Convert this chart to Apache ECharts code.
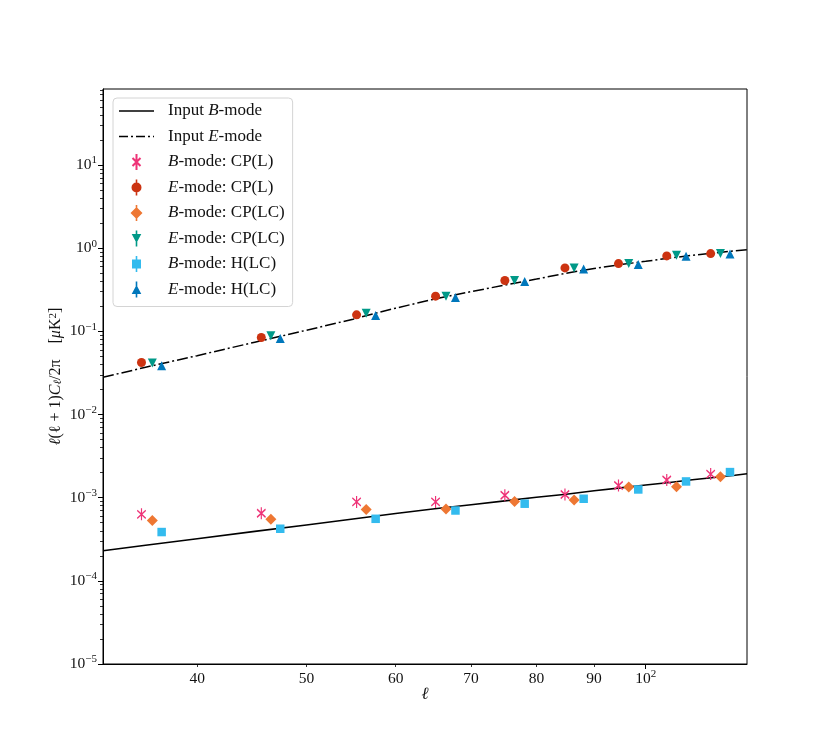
<!DOCTYPE html>
<html><head><meta charset="utf-8">
<script src="https://cdn.jsdelivr.net/npm/echarts@6/dist/echarts.min.js"></script>
<style>html,body{margin:0;padding:0;background:#fff}#c{width:830px;height:747px}</style>
</head><body><div id="c"></div>
<script>
// ---- data ----
const lineEll = [33, 36, 40, 45, 50, 55, 60, 65, 70, 75, 80, 85, 90, 95, 100, 105, 110, 115, 120, 123];
const inputB  = [2.30e-4, 2.68e-4, 3.21e-4, 3.93e-4, 4.70e-4, 5.55e-4, 6.46e-4, 7.36e-4, 8.23e-4, 9.16e-4,
                 1.01e-3, 1.10e-3, 1.21e-3, 1.31e-3, 1.42e-3, 1.52e-3, 1.64e-3, 1.75e-3, 1.86e-3, 1.94e-3];
const inputE  = [0.028, 0.037, 0.051, 0.074, 0.103, 0.140, 0.190, 0.245, 0.300, 0.360,
                 0.425, 0.500, 0.570, 0.635, 0.695, 0.760, 0.820, 0.875, 0.930, 0.960];

const ellCPL  = [35.7, 45.6, 55.4, 65.1, 75.0, 84.8, 94.6, 104.4, 114.2];
const ellCPLC = [36.5, 46.5, 56.5, 66.5, 76.5, 86.4, 96.6, 106.5, 116.5];
const ellHLC  = [37.2, 47.4, 57.6, 67.8, 78.1, 88.1, 98.5, 108.6, 118.8];

const bCPL  = [6.3e-4, 6.5e-4, 8.9e-4, 8.9e-4, 1.07e-3, 1.09e-3, 1.40e-3, 1.63e-3, 1.92e-3];
const eCPL  = [0.0422, 0.0842, 0.158, 0.265, 0.408, 0.579, 0.653, 0.807, 0.861];
const bCPLC = [5.3e-4, 5.5e-4, 7.2e-4, 7.3e-4, 9.0e-4, 9.35e-4, 1.34e-3, 1.35e-3, 1.78e-3];
const eCPLC = [0.0415, 0.0883, 0.1655, 0.265, 0.408, 0.579, 0.653, 0.824, 0.861];
const bHLC  = [3.86e-4, 4.23e-4, 5.57e-4, 7.01e-4, 8.46e-4, 9.7e-4, 1.255e-3, 1.567e-3, 2.03e-3];
const eHLC  = [0.0385, 0.0818, 0.155, 0.255, 0.397, 0.563, 0.636, 0.802, 0.848];

const xTicks = [40, 50, 60, 70, 80, 90, 100];
const xTickLabels = ['40', '50', '60', '70', '80', '90', '10^2'];
const xMajorTicks = [100];
const yTicks = [1e-5, 1e-4, 1e-3, 1e-2, 1e-1, 1, 10];
const yTickLabels = ['10^−5', '10^−4', '10^−3', '10^−2', '10^−1', '10^0', '10^1'];

const seriesNames = ['Input B-mode', 'Input E-mode', 'B-mode: CP(L)', 'E-mode: CP(L)',
  'B-mode: CP(LC)', 'E-mode: CP(LC)', 'B-mode: H(LC)', 'E-mode: H(LC)'];

// minor tick positions (2..9 x 10^n) for the log y axis
const yMinor = [];
for (let e = -5; e <= 1; e++) for (let m = 2; m <= 9; m++) yMinor.push(+(m * Math.pow(10, e)).toPrecision(3));

const zip = (xs, ys) => xs.map((x, i) => [x, ys[i]]);
const FF = "'Liberation Serif', 'DejaVu Serif', serif";
const TXT = '#111';

const tickRich = {
  b: { fontFamily: FF, fontSize: 15.5, color: TXT, lineHeight: 20 },
  s: { fontFamily: FF, fontSize: 11, color: TXT, lineHeight: 12, verticalAlign: 'top' }
};
function tickFmt(labels, ticks) {
  return function (v) {
    let idx = ticks.findIndex(t => Math.abs(t - v) / t < 1e-6);
    const lab = idx >= 0 ? labels[idx] : String(v);
    const parts = lab.split('^');
    return parts.length > 1 ? '{b|' + parts[0] + '}{s|' + parts[1] + '}' : '{b|' + lab + '}';
  };
}

// legend icons (marker + error-bar stroke; line samples)
const ICON = {
  solid: 'path://M0,0h35v1.6h-35Z',
  dashdot: 'path://M0,0h9v1.5h-9Z M12,0h2v1.5h-2Z M17,0h9v1.5h-9Z M29,0h2v1.5h-2Z M34,0h1v1.5h-1Z',
  x: 'path://M4.5,4L12.5,12M12.5,4L4.5,12M8.5,0L8.5,16',
  circle: 'path://M7.7,0h1.6v16h-1.6Z M3.5,8A5,5 0 1,1 13.5,8A5,5 0 1,1 3.5,8Z',
  diamond: 'path://M7.7,0h1.6v16h-1.6Z M8.5,2L14.5,8L8.5,14L2.5,8Z',
  tdown: 'path://M7.7,0h1.6v16h-1.6Z M3.7,3.5L13.3,3.5L8.5,12.5Z',
  rect: 'path://M7.7,0h1.6v16h-1.6Z M4,3.5h9v9h-9Z',
  tup: 'path://M7.7,0h1.6v16h-1.6Z M8.5,3.5L13.3,12.5L3.7,12.5Z'
};

const chart = echarts.init(document.getElementById('c'), null, { renderer: 'canvas' });
const axisLineStyle = { color: '#000', width: 1 };
chart.setOption({
  animation: false,
  backgroundColor: '#fff',
  grid: { left: 103, right: 83, top: 89, bottom: 83, show: true, borderColor: '#000', borderWidth: 1, backgroundColor: 'transparent' },
  legend: {
    orient: 'vertical', left: 113, top: 98,
    padding: [4, 8, 8, 6],
    itemWidth: 35, itemHeight: 16, itemGap: 7.5,
    symbolKeepAspect: true,
    backgroundColor: '#fff', borderColor: '#d4d4d4', borderWidth: 1, borderRadius: 4,
    textStyle: {
      fontFamily: FF, fontSize: 17, color: TXT, lineHeight: 18, padding: [0, 0, 0, 9],
      rich: { i: { fontFamily: FF, fontSize: 17, fontStyle: 'italic', color: TXT, lineHeight: 18 } }
    },
    formatter: n => n.replace(/(^|\s)([BE])-mode/, '$1{i|$2}-mode'),
    data: [
      { name: seriesNames[0], icon: ICON.solid },
      { name: seriesNames[1], icon: ICON.dashdot },
      { name: seriesNames[2], icon: ICON.x },
      { name: seriesNames[3], icon: ICON.circle },
      { name: seriesNames[4], icon: ICON.diamond },
      { name: seriesNames[5], icon: ICON.tdown },
      { name: seriesNames[6], icon: ICON.rect },
      { name: seriesNames[7], icon: ICON.tup }
    ]
  },
  xAxis: [{
    type: 'log', min: 33, max: 123, position: 'bottom',
    name: 'ℓ', nameLocation: 'middle', nameGap: 22, nameMoveOverlap: false,
    nameTextStyle: { fontFamily: FF, fontSize: 17, fontStyle: 'italic', color: TXT },
    axisLine: { show: true, lineStyle: axisLineStyle },
    axisTick: { show: true, length: 3, lineStyle: { color: '#000', width: 0.8 }, customValues: xTicks },
    axisLabel: { customValues: xTicks, margin: 5, formatter: tickFmt(xTickLabels, xTicks), rich: tickRich },
    splitLine: { show: false }, minorTick: { show: false }
  }, {
    type: 'log', min: 33, max: 123, position: 'bottom',
    axisLine: { show: false },
    axisTick: { show: true, length: 5, lineStyle: { color: '#000', width: 1 }, customValues: xMajorTicks },
    axisLabel: { show: false }, splitLine: { show: false }
  }],
  yAxis: [{
    type: 'log', min: 1e-5, max: 82, position: 'left',
    name: '{i|ℓ}(ℓ + 1){i|C}{sub|ℓ}/2π    [{i|μ}K{sup|2}]',
    nameLocation: 'middle', nameGap: 39, nameRotate: 90, nameMoveOverlap: false,
    nameTextStyle: {
      fontFamily: FF, fontSize: 16, color: TXT,
      rich: {
        i: { fontFamily: FF, fontSize: 16, fontStyle: 'italic', color: TXT },
        sub: { fontFamily: FF, fontSize: 11, fontStyle: 'italic', color: TXT, verticalAlign: 'bottom', lineHeight: 14 },
        sup: { fontFamily: FF, fontSize: 11, color: TXT, verticalAlign: 'top', lineHeight: 12 }
      }
    },
    axisLine: { show: true, lineStyle: axisLineStyle },
    axisTick: { show: true, length: 5, lineStyle: { color: '#000', width: 1 }, customValues: yTicks },
    axisLabel: { customValues: yTicks, margin: 6, formatter: tickFmt(yTickLabels, yTicks), rich: tickRich },
    splitLine: { show: false }
  }, {
    type: 'log', min: 1e-5, max: 82, position: 'left',
    axisLine: { show: false },
    axisTick: { show: true, length: 3, lineStyle: { color: '#000', width: 0.8 }, customValues: yMinor },
    axisLabel: { show: false }, splitLine: { show: false }
  }],
  series: [
    { name: seriesNames[0], type: 'line', data: zip(lineEll, inputB), showSymbol: false, symbol: 'none',
      lineStyle: { color: '#000', width: 1.6 }, itemStyle: { color: '#000' }, z: 2 },
    { name: seriesNames[1], type: 'line', data: zip(lineEll, inputE), showSymbol: false, symbol: 'none',
      lineStyle: { color: '#000', width: 1.5, type: [11, 3, 2, 3] }, itemStyle: { color: '#000' }, z: 2 },
    { name: seriesNames[2], type: 'scatter', data: zip(ellCPL, bCPL),
      symbol: 'path://M0,2L8,10M8,2L0,10M4,0L4,12', symbolSize: [8.5, 12],
      itemStyle: { color: 'rgba(0,0,0,0)', borderColor: '#EE3377', borderWidth: 1.4, opacity: 1 }, z: 3 },
    { name: seriesNames[3], type: 'scatter', data: zip(ellCPL, eCPL), symbol: 'circle', symbolSize: 9,
      itemStyle: { color: '#CC3311', opacity: 1 }, z: 3 },
    { name: seriesNames[4], type: 'scatter', data: zip(ellCPLC, bCPLC), symbol: 'diamond', symbolSize: [11, 11],
      itemStyle: { color: '#EE7733', opacity: 1 }, z: 3 },
    { name: seriesNames[5], type: 'scatter', data: zip(ellCPLC, eCPLC), symbol: 'triangle', symbolRotate: 180, symbolSize: 9,
      itemStyle: { color: '#009988', opacity: 1 }, z: 3 },
    { name: seriesNames[6], type: 'scatter', data: zip(ellHLC, bHLC), symbol: 'rect', symbolSize: 8.5,
      itemStyle: { color: '#33BBEE', opacity: 1 }, z: 3 },
    { name: seriesNames[7], type: 'scatter', data: zip(ellHLC, eHLC), symbol: 'triangle', symbolSize: 9,
      itemStyle: { color: '#0077BB', opacity: 1 }, z: 3 }
  ]
});
</script>
</body></html>
